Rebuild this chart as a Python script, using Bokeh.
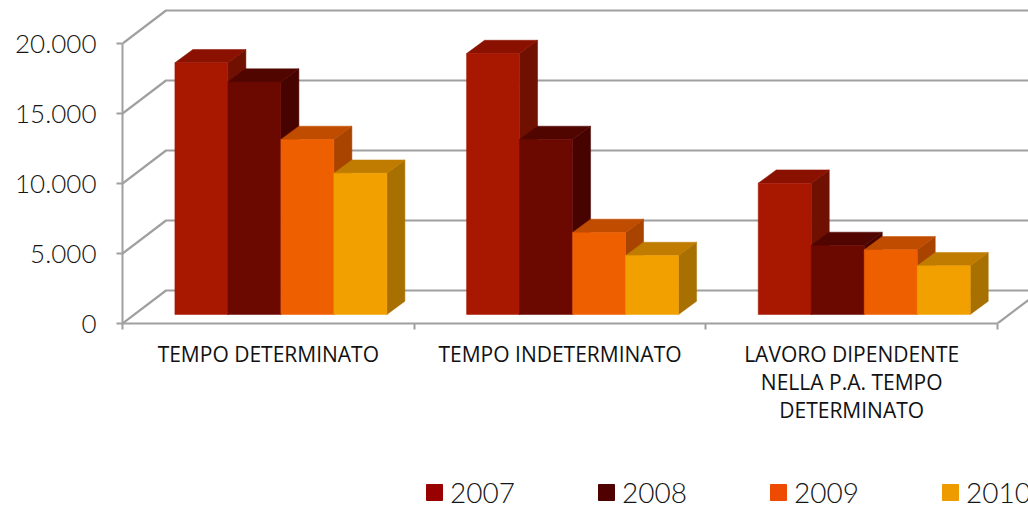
from bokeh.plotting import figure
from bokeh.layouts import column
from bokeh.models import Range1d, FixedTicker, Legend, LegendItem
from bokeh.embed import file_html
from bokeh.resources import INLINE

categories = ["TEMPO DETERMINATO", "TEMPO INDETERMINATO", "LAVORO DIPENDENTE\nNELLA P.A. TEMPO\nDETERMINATO"]
years = ["2007", "2008", "2009", "2010"]
v2007 = [17980, 18640, 9380]
v2008 = [16600, 12500, 4930]
v2009 = [12500, 5860, 4620]
v2010 = [10090, 4210, 3480]
y_ticks = [0, 5000, 10000, 15000, 20000]
y_labels = ["0", "5.000", "10.000", "15.000", "20.000"]

series = [v2007, v2008, v2009, v2010]
front = ["#A81700", "#6B0800", "#EE5F00", "#F2A000"]
top = ["#8A1000", "#500500", "#C04C00", "#C07C00"]
side = ["#701000", "#470300", "#A84300", "#A87000"]
swatch = ["#990000", "#4F0000", "#EE4B00", "#EE9B00"]
GREY = "#A0A0A0"
TXT = "#151515"

PX_X = 291.67  # pixels per category
PX_Y = 0.014   # pixels per value unit
wall_dx, wall_dy = 43.5 / PX_X, 33 / PX_Y
bar_w = 53 / PX_X
bar_x0 = 52.4 / PX_X
bar_y0 = 9 / PX_Y
bar_dx, bar_dy = 18 / PX_X, 13.3 / PX_Y

p = figure(width=1028, height=470,
           x_range=Range1d(0, 906 / PX_X), y_range=Range1d(0, 315 / PX_Y),
           output_backend="svg", toolbar_location=None, frame_align=False,
           min_border_left=122, min_border_right=0, min_border_top=8, min_border_bottom=147,
           outline_line_color=None, background_fill_color="white", border_fill_color="white")
p.grid.visible = False

# wall and floor lines
xs, ys = [], []
for t in y_ticks:
    xs.append([0, wall_dx, 4])
    ys.append([t, t + wall_dy, t + wall_dy])
xs.append([3, 3 + wall_dx])
ys.append([0, wall_dy])
p.multi_line(xs, ys, line_color=GREY, line_width=2.2)

# 3D bars
for s, vals in enumerate(series):
    lefts = [g + bar_x0 + s * bar_w for g in range(len(vals))]
    rights = [l + bar_w for l in lefts]
    base = bar_y0
    p.patches([[r, r + bar_dx, r + bar_dx, r] for r in rights],
              [[base, base + bar_dy, base + v + bar_dy, base + v] for v in vals],
              fill_color=side[s], line_color=side[s], line_width=0.5)
    p.patches([[l, r, r + bar_dx, l + bar_dx] for l, r in zip(lefts, rights)],
              [[base + v, base + v, base + v + bar_dy, base + v + bar_dy] for v in vals],
              fill_color=top[s], line_color=top[s], line_width=0.5)
    p.quad(left=lefts, right=rights, bottom=base, top=[base + v for v in vals],
           fill_color=front[s], line_color=front[s], line_width=0.5)

# axes
ax = p.yaxis[0]
ax.ticker = FixedTicker(ticks=y_ticks)
ax.major_label_overrides = {t: l for t, l in zip(y_ticks, y_labels)}
ax.major_label_text_font = "Lato Light, Lato"
ax.major_label_text_font_size = "26px"
ax.major_label_text_color = TXT
ax.major_label_standoff = 20
ax.axis_line_color = GREY
ax.axis_line_width = 2
ax.major_tick_line_color = GREY
ax.major_tick_line_width = 2
ax.major_tick_out = 6
ax.major_tick_in = 0
ax.minor_tick_line_color = None
ax.bounds = (0, 20000)

bx = p.xaxis[0]
centers = [g + 0.5 for g in range(len(categories))]
bx.ticker = FixedTicker(ticks=centers, minor_ticks=[0, 1, 2, 3])
bx.major_label_overrides = {c: l for c, l in zip(centers, categories)}
bx.major_label_text_font = "Open Sans"
bx.major_label_text_font_size = "21px"
bx.major_label_text_color = "#111111"
bx.major_label_text_line_height = 1.0
bx.major_label_standoff = 10
bx.axis_line_color = GREY
bx.axis_line_width = 2
bx.major_tick_line_color = None
bx.minor_tick_line_color = GREY
bx.minor_tick_line_width = 2
bx.minor_tick_out = 6
bx.minor_tick_in = 0
bx.bounds = (0, 3)

# legend, in its own strip so that it is not clipped by the chart's frame
lf = figure(width=1028, height=38, x_range=Range1d(0, 1), y_range=Range1d(0, 1),
            x_axis_location=None, y_axis_location=None,
            output_backend="svg", toolbar_location=None, frame_align=False,
            min_border_left=0, min_border_right=0, min_border_top=0, min_border_bottom=0,
            outline_line_color=None, background_fill_color="white", border_fill_color="white")
lf.grid.visible = False
items = []
for y, c in zip(years, swatch):
    # the swatch quad lies outside the strip's range: only its legend entry shows
    r = lf.quad(left=[2], right=[3], bottom=[2], top=[3], fill_color=c, line_color=c)
    items.append(LegendItem(label=y, renderers=[r]))
leg = Legend(items=items, orientation="horizontal", location=(424, -1),
             glyph_width=20, glyph_height=20, label_standoff=6, spacing=81,
             padding=0, margin=0, border_line_color=None, background_fill_alpha=0,
             label_text_font="Lato Light, Lato", label_text_font_size="28px", label_text_color=TXT,
             label_height=30)
lf.add_layout(leg, "center")

page = column(p, lf, spacing=0)
open("out.html", "w").write(file_html(page, INLINE))
